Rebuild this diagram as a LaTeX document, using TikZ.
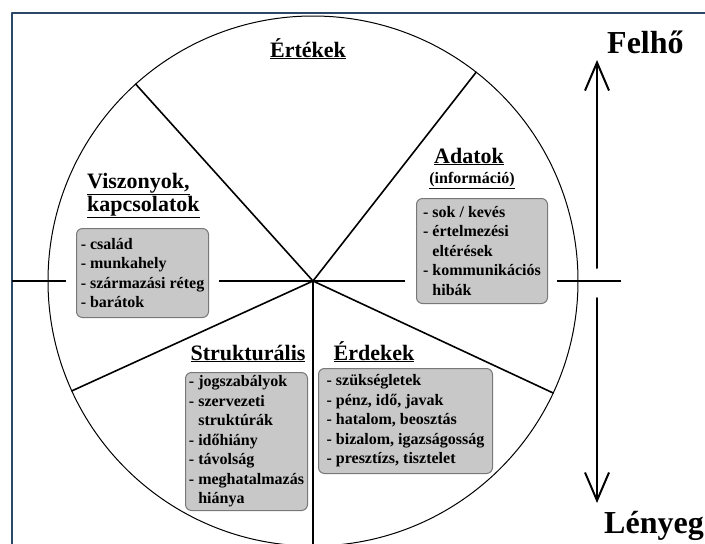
\documentclass[tikz,border=0pt]{standalone}
\usepackage{fontspec}
\setmainfont{Liberation Serif}
\usetikzlibrary{arrows.meta}
\definecolor{framecol}{RGB}{44,72,105}
\definecolor{boxfill}{RGB}{200,200,200}
\definecolor{boxline}{RGB}{120,120,120}

\begin{document}
\begin{tikzpicture}[line cap=round,line join=round,x=1pt,y=-1pt,
  title/.style={font=\fontsize{22}{23}\selectfont\bfseries, inner sep=0pt},
  subtitle/.style={font=\fontsize{16}{19}\selectfont\bfseries, inner sep=0pt},
  side/.style={font=\fontsize{32}{36}\selectfont\bfseries, inner sep=0pt},
  listbox/.style={draw=boxline, fill=boxfill, line width=1pt, rounded corners=6pt,
    align=left, anchor=north west, inner xsep=3pt, inner ysep=3pt,
    font=\fontsize{16}{19.5}\selectfont\bfseries},
  sector/.style={line width=1.6pt},
  axisline/.style={line width=2.6pt, line cap=butt},
  bigarrow/.style={line width=2pt, -{Straight Barb[length=28pt,width=24pt,line width=2pt]}}]

\useasboundingbox (0,0) rectangle (705,544);

% kehys
\draw[framecol, line width=2pt] (12,544) -- (12,13) -- (705,13);

% kor ja sektorit
\coordinate (centre) at (313,281);
\draw[line width=1pt] (centre) circle [radius=265pt];
\draw[sector] (centre) -- ++(132:265pt);
\draw[sector] (centre) -- ++(52:265pt);
\draw[sector] (centre) -- ++(204.5:265pt);
\draw[sector] (centre) -- ++(335:265pt);
\draw[sector] (centre) -- ++(270:265pt);

% laatikot
\node[listbox, minimum width=132pt, minimum height=89pt] (viszonyok) at (76,228)
  {- család\\- munkahely\\- származási réteg\\- barátok};
\node[listbox, minimum width=131pt, minimum height=105pt] (adatok) at (416,198)
  {- sok / kevés\\- értelmezési\\\hphantom{- }eltérések\\- kommunikációs\\\hphantom{- }hibák};
\node[listbox, minimum width=122pt, minimum height=138pt] (strukt) at (185,372)
  {- jogszabályok\\- szervezeti\\\hphantom{- }struktúrák\\- időhiány\\- távolság\\- meghatalmazás\\\hphantom{- }hiánya};
\node[listbox, minimum width=174pt, minimum height=105pt] (erdekek) at (318,368)
  {- szükségletek\\- pénz, idő, javak\\- hatalom, beosztás\\- bizalom, igazságosság\\- presztízs, tisztelet};

% otsikot
\node[title, anchor=base] (ertekek-t) at (308,57) {\underline{Értékek}};
\node[title, anchor=north west, align=left] (viszonyok-t) at (87,173)
  {\underline{Viszonyok,}\\\underline{kapcsolatok}};
\node[title, anchor=base] (adatok-t) at (469,163) {\underline{Adatok}};
\node[subtitle, anchor=base] (adatok-s) at (472,183) {\underline{(információ)}};
\node[title, anchor=base] (strukt-t) at (248,360) {\underline{Strukturális}};
\node[title, anchor=base] (erdekek-t) at (374,360) {\underline{Érdekek}};

% vaakaviiva
\coordinate (axis-left) at (12,281);
\coordinate (axis-right) at (621,281);
\draw[axisline] (axis-left) -- ([xshift=-10pt]viszonyok.west |- centre);
\draw[axisline] ([xshift=10pt]viszonyok.east |- centre) -- ([xshift=-11pt]adatok.west |- centre);
\draw[axisline] ([xshift=9pt]adatok.east |- centre) -- (axis-right);

% nuolet
\coordinate (felho-start) at (597,268);
\coordinate (felho-tip) at (597,60);
\coordinate (lenyeg-start) at (597,298);
\coordinate (lenyeg-tip) at (597,503);
\draw[bigarrow] (felho-start) -- (felho-tip);
\draw[bigarrow] (lenyeg-start) -- (lenyeg-tip);
\node[side, anchor=base west] (felho) at (607,53) {Felhő};
\node[side, anchor=base west] (lenyeg) at (604,533) {Lényeg};

\end{tikzpicture}
\end{document}
